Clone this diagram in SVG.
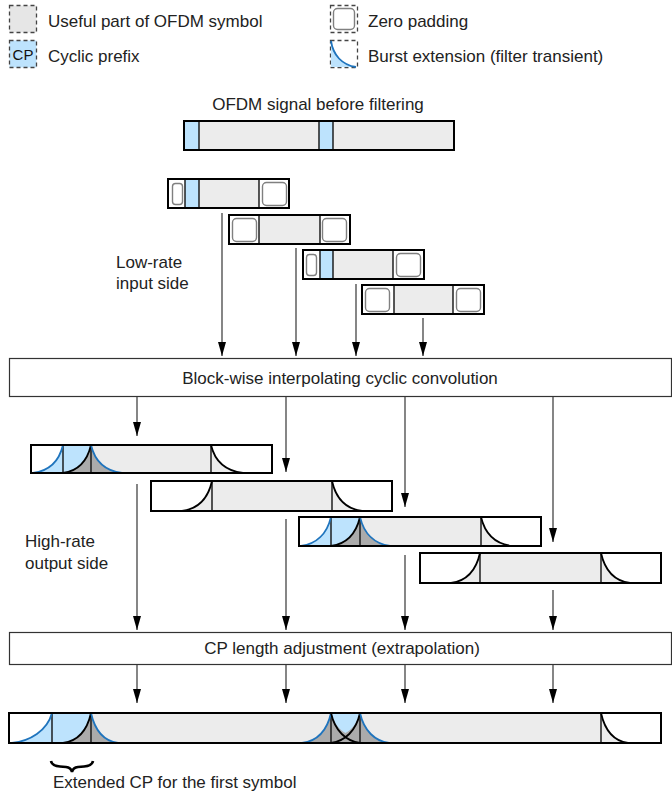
<svg xmlns="http://www.w3.org/2000/svg" width="672" height="793" viewBox="0 0 672 793">
  <defs>
    <marker id="head" markerUnits="userSpaceOnUse" markerWidth="8" markerHeight="14" viewBox="0 0 8 14" refX="4" refY="14" orient="0">
      <path d="M0,0 L8,0 L4,14 Z" fill="#000"/>
    </marker>
  </defs>
  <style>
    text { font-family: "Liberation Sans", Arial, sans-serif; font-size: 17px; fill: #222; }
    .frame { fill: none; stroke: #000; stroke-width: 2; }
    .useful { fill: #ececec; }
    .cp { fill: #bde3fd; }
    .dark { fill: #ababab; }
    .div { stroke: #111; stroke-width: 1.4; }
    .zp { fill: none; stroke: #808080; stroke-width: 1.4; }
    .kc { fill: none; stroke: #000; stroke-width: 1.8; }
    .bc { fill: none; stroke: #1f74bd; stroke-width: 1.8; }
    .dash { stroke: #444; stroke-width: 1.3; stroke-dasharray: 4 3; }
    .arrow { stroke: #444; stroke-width: 1.3; marker-end: url(#head); }
    .box { fill: #fff; stroke: #333; stroke-width: 1.2; }
  </style>

  <rect width="672" height="793" fill="#fff"/>

  <!-- legend -->
  <g id="legend">
    <rect x="9.5" y="5.5" width="27" height="27" class="dash" fill="#e6e6e6"/>
    <text x="48" y="27">Useful part of OFDM symbol</text>
    <rect x="9.5" y="40.5" width="27" height="27" class="dash" fill="#bde3fd"/>
    <text x="23" y="60" text-anchor="middle" style="font-size:15px;fill:#111">CP</text>
    <text x="48" y="62">Cyclic prefix</text>
    <rect x="330.5" y="5.5" width="27" height="27" class="dash" fill="#fff"/>
    <rect x="333.5" y="8.5" width="21" height="21" rx="4" class="zp"/>
    <text x="368" y="27">Zero padding</text>
    <rect x="330.5" y="40.5" width="27" height="27" class="dash" fill="#fff"/>
    <path d="M331,41 C333,55 342,65 356,67 L331,67 Z" class="cp"/>
    <path d="M331,41 C333,55 342,65 356,67" class="bc" stroke-width="1.5"/>
    <text x="368" y="62">Burst extension (filter transient)</text>
  </g>

  <!-- OFDM signal before filtering -->
  <g id="signal-before">
    <text x="318" y="110" text-anchor="middle">OFDM signal before filtering</text>
    <rect x="184" y="121" width="270" height="29" class="useful"/>
    <rect x="184" y="121" width="15" height="29" class="cp"/>
    <rect x="319" y="121" width="14" height="29" class="cp"/>
    <line x1="199" y1="121" x2="199" y2="150" class="div"/>
    <line x1="319" y1="121" x2="319" y2="150" class="div"/>
    <line x1="333" y1="121" x2="333" y2="150" class="div"/>
    <rect x="184" y="121" width="270" height="29" class="frame"/>
  </g>

  <!-- low-rate input blocks -->
  <g id="in-block-1">
    <rect x="168" y="179" width="121" height="29" fill="#fff"/>
    <rect x="172.5" y="183.5" width="10" height="21" rx="3" class="zp"/>
    <rect x="185" y="179" width="14" height="29" class="cp"/>
    <rect x="199" y="179" width="60" height="29" class="useful"/>
    <line x1="185" y1="179" x2="185" y2="208" class="div"/>
    <line x1="199" y1="179" x2="199" y2="208" class="div"/>
    <line x1="259" y1="179" x2="259" y2="208" class="div"/>
    <rect x="262.5" y="182.5" width="24" height="23" rx="4" class="zp"/>
    <rect x="168" y="179" width="121" height="29" class="frame"/>
  </g>
  <g id="in-block-2">
    <rect x="229" y="215" width="121" height="29" fill="#fff"/>
    <rect x="232.5" y="218.5" width="24" height="23" rx="4" class="zp"/>
    <rect x="259" y="215" width="61" height="29" class="useful"/>
    <line x1="259" y1="215" x2="259" y2="244" class="div"/>
    <line x1="320" y1="215" x2="320" y2="244" class="div"/>
    <rect x="322.5" y="218.5" width="24" height="23" rx="4" class="zp"/>
    <rect x="229" y="215" width="121" height="29" class="frame"/>
  </g>
  <g id="in-block-3">
    <rect x="303" y="250" width="121" height="29" fill="#fff"/>
    <rect x="306.5" y="254.5" width="10" height="21" rx="3" class="zp"/>
    <rect x="320" y="250" width="13" height="29" class="cp"/>
    <rect x="333" y="250" width="60" height="29" class="useful"/>
    <line x1="320" y1="250" x2="320" y2="279" class="div"/>
    <line x1="333" y1="250" x2="333" y2="279" class="div"/>
    <line x1="393" y1="250" x2="393" y2="279" class="div"/>
    <rect x="396.5" y="253.5" width="24" height="23" rx="4" class="zp"/>
    <rect x="303" y="250" width="121" height="29" class="frame"/>
  </g>
  <g id="in-block-4">
    <rect x="362" y="285" width="122" height="29" fill="#fff"/>
    <rect x="365.5" y="288.5" width="24" height="23" rx="4" class="zp"/>
    <rect x="394" y="285" width="59" height="29" class="useful"/>
    <line x1="394" y1="285" x2="394" y2="314" class="div"/>
    <line x1="453" y1="285" x2="453" y2="314" class="div"/>
    <rect x="456.5" y="288.5" width="24" height="23" rx="4" class="zp"/>
    <rect x="362" y="285" width="122" height="29" class="frame"/>
  </g>

  <g id="label-low-rate">
    <text x="116" y="268">Low-rate</text>
    <text x="116" y="289">input side</text>
  </g>

  <!-- processing stages -->
  <g id="stage-convolution">
    <rect x="9.5" y="358.5" width="662" height="38" class="box"/>
    <text x="340" y="384" text-anchor="middle">Block-wise interpolating cyclic convolution</text>
  </g>

  <!-- high-rate output blocks -->
  <g id="out-block-1">
    <rect x="31" y="445" width="241" height="28" fill="#fff"/>
    <path d="M33,473 C48,471 59,462 63,445 L63,473 Z" class="cp"/>
    <rect x="63" y="445" width="28" height="28" class="cp"/>
    <path d="M63,473 C78,471 87,462 91,445 L91,473 Z" class="dark"/>
    <rect x="91" y="445" width="120" height="28" class="useful"/>
    <path d="M91,445 C95,462 106,471 122,473 L91,473 Z" class="dark"/>
    <path d="M211,445 C215,462 227,471 243,473 L211,473 Z" class="useful"/>
    <line x1="63" y1="445" x2="63" y2="473" class="div"/>
    <line x1="91" y1="445" x2="91" y2="473" class="div"/>
    <line x1="211" y1="445" x2="211" y2="473" class="div"/>
    <path d="M33,473 C48,471 59,462 63,445" class="bc"/>
    <path d="M63,473 C78,471 87,462 91,445" class="kc"/>
    <path d="M91,445 C95,462 106,471 122,473" class="bc"/>
    <path d="M211,445 C215,462 227,471 243,473" class="kc"/>
    <rect x="31" y="445" width="241" height="28" class="frame"/>
  </g>
  <g id="out-block-2">
    <rect x="151" y="481" width="241" height="30" fill="#fff"/>
    <path d="M182,511 C197,509 208,499 212,481 L212,511 Z" class="useful"/>
    <rect x="212" y="481" width="120" height="30" class="useful"/>
    <path d="M332,481 C336,499 347,509 362,511 L332,511 Z" class="useful"/>
    <line x1="212" y1="481" x2="212" y2="511" class="div"/>
    <line x1="332" y1="481" x2="332" y2="511" class="div"/>
    <path d="M182,511 C197,509 208,499 212,481" class="kc"/>
    <path d="M332,481 C336,499 347,509 362,511" class="kc"/>
    <rect x="151" y="481" width="241" height="30" class="frame"/>
  </g>
  <g id="out-block-3">
    <rect x="299" y="517" width="242" height="29" fill="#fff"/>
    <path d="M301,546 C316,544 327,534 331,517 L331,546 Z" class="cp"/>
    <rect x="331" y="517" width="29" height="29" class="cp"/>
    <path d="M331,546 C346,544 356,534 360,517 L360,546 Z" class="dark"/>
    <rect x="360" y="517" width="121" height="29" class="useful"/>
    <path d="M360,517 C364,534 375,544 390,546 L360,546 Z" class="dark"/>
    <path d="M481,517 C485,534 496,544 512,546 L481,546 Z" class="useful"/>
    <line x1="331" y1="517" x2="331" y2="546" class="div"/>
    <line x1="360" y1="517" x2="360" y2="546" class="div"/>
    <line x1="481" y1="517" x2="481" y2="546" class="div"/>
    <path d="M301,546 C316,544 327,534 331,517" class="bc"/>
    <path d="M331,546 C346,544 356,534 360,517" class="kc"/>
    <path d="M360,517 C364,534 375,544 390,546" class="bc"/>
    <path d="M481,517 C485,534 496,544 512,546" class="kc"/>
    <rect x="299" y="517" width="242" height="29" class="frame"/>
  </g>
  <g id="out-block-4">
    <rect x="420" y="553" width="241" height="30" fill="#fff"/>
    <path d="M451,583 C466,581 476,571 480,553 L480,583 Z" class="useful"/>
    <rect x="480" y="553" width="121" height="30" class="useful"/>
    <path d="M601,553 C605,571 615,581 630,583 L601,583 Z" class="useful"/>
    <line x1="480" y1="553" x2="480" y2="583" class="div"/>
    <line x1="601" y1="553" x2="601" y2="583" class="div"/>
    <path d="M451,583 C466,581 476,571 480,553" class="kc"/>
    <path d="M601,553 C605,571 615,581 630,583" class="kc"/>
    <rect x="420" y="553" width="241" height="30" class="frame"/>
  </g>

  <g id="label-high-rate">
    <text x="25" y="547">High-rate</text>
    <text x="25" y="569">output side</text>
  </g>

  <g id="stage-cp-adjust">
    <rect x="9.5" y="632.5" width="662" height="32" class="box"/>
    <text x="342" y="654" text-anchor="middle">CP length adjustment (extrapolation)</text>
  </g>

  <!-- filtered output signal -->
  <g id="signal-after">
    <rect x="9" y="713" width="652" height="30" fill="#fff"/>
    <path d="M12,743 C30,741 47,731 52,713 L52,743 Z" class="cp"/>
    <rect x="52" y="713" width="39" height="30" class="cp"/>
    <path d="M63,743 C78,741 87,731 91,713 L91,743 Z" class="dark"/>
    <rect x="91" y="713" width="240" height="30" class="useful"/>
    <path d="M91,713 C95,731 104,741 118,743 L91,743 Z" class="dark"/>
    <path d="M302,743 C317,741 327,731 331,713 L331,743 Z" class="dark"/>
    <rect x="331" y="713" width="29" height="30" class="cp"/>
    <path d="M331,713 C334,724 340,730 345.5,733 C351,730 357,724 360,713 L360,743 L331,743 Z" class="dark"/>
    <rect x="360" y="713" width="241" height="30" class="useful"/>
    <path d="M360,713 C364,731 375,741 389,743 L360,743 Z" class="dark"/>
    <path d="M601,713 C605,731 614,741 628,743 L601,743 Z" class="useful"/>
    <line x1="52" y1="713" x2="52" y2="743" class="div"/>
    <line x1="91" y1="713" x2="91" y2="743" class="div"/>
    <line x1="331" y1="713" x2="331" y2="743" class="div"/>
    <line x1="360" y1="713" x2="360" y2="743" class="div"/>
    <line x1="601" y1="713" x2="601" y2="743" class="div"/>
    <path d="M12,743 C30,741 47,731 52,713" class="bc"/>
    <path d="M63,743 C78,741 87,731 91,713" class="kc"/>
    <path d="M91,713 C95,731 104,741 118,743" class="bc"/>
    <path d="M302,743 C317,741 327,731 331,713" class="bc"/>
    <path d="M331,713 C335,731 346,741 360,743" class="kc"/>
    <path d="M331,743 C345,741 356,731 360,713" class="kc"/>
    <path d="M360,713 C364,731 375,741 389,743" class="bc"/>
    <path d="M601,713 C605,731 614,741 628,743" class="kc"/>
    <rect x="9" y="713" width="652" height="30" class="frame"/>
  </g>

  <g id="label-extended-cp">
    <path d="M51,761 Q52,766 60,766.5 L66,767 Q71,767.5 72,772 Q73,767.5 78,767 L84,766.5 Q92,766 93,761" fill="none" stroke="#000" stroke-width="2.6"/>
    <text x="53" y="788">Extended CP for the first symbol</text>
  </g>

  <!-- connectors -->
  <g id="connectors">
    <line x1="222" y1="213" x2="222" y2="356" class="arrow"/>
    <line x1="296" y1="248" x2="296" y2="356" class="arrow"/>
    <line x1="356" y1="284" x2="356" y2="356" class="arrow"/>
    <line x1="423" y1="318" x2="423" y2="356" class="arrow"/>

    <line x1="137" y1="397" x2="137" y2="436" class="arrow"/>
    <line x1="286" y1="397" x2="286" y2="472" class="arrow"/>
    <line x1="405" y1="397" x2="405" y2="507" class="arrow"/>
    <line x1="553" y1="397" x2="553" y2="542" class="arrow"/>

    <line x1="137" y1="484" x2="137" y2="630" class="arrow"/>
    <line x1="286" y1="519" x2="286" y2="630" class="arrow"/>
    <line x1="405" y1="555" x2="405" y2="630" class="arrow"/>
    <line x1="553" y1="590" x2="553" y2="630" class="arrow"/>

    <line x1="137" y1="665" x2="137" y2="703" class="arrow"/>
    <line x1="286" y1="665" x2="286" y2="703" class="arrow"/>
    <line x1="405" y1="665" x2="405" y2="703" class="arrow"/>
    <line x1="553" y1="665" x2="553" y2="703" class="arrow"/>
  </g>
</svg>
